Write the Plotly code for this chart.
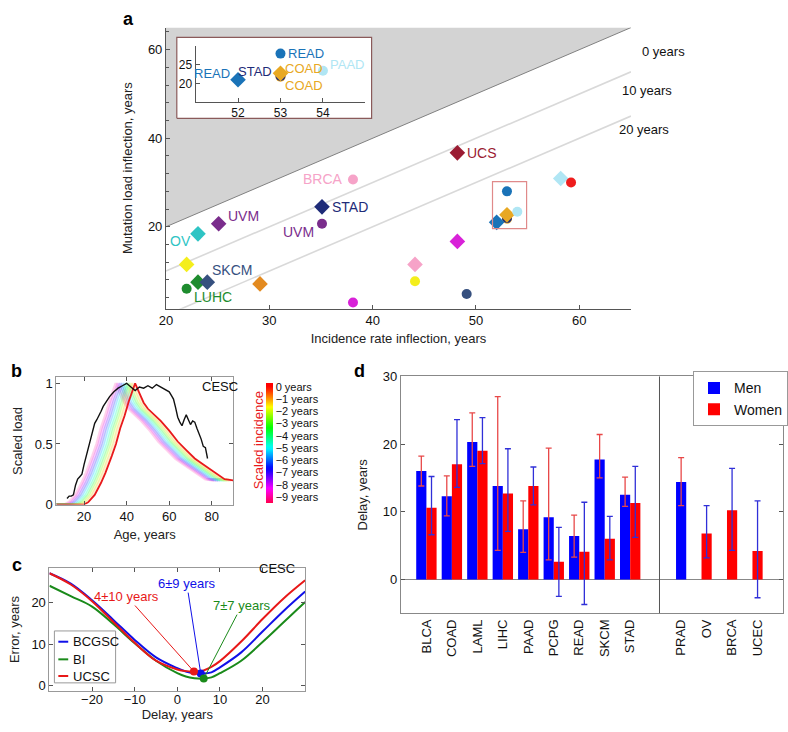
import colorsys
import plotly.graph_objects as go

W, H = 788, 732
FONT = "Liberation Sans, Arial, Helvetica, sans-serif"


def PX(x):
    return x / W


def PY(y):
    return 1 - y / H


# ---------------- Panel a data ----------------
a_cancer = ["BRCA", "STAD", "UVM", "UVM", "OV", "HNSC", "LUHC", "LUHC", "SKCM", "KIRC",
            "LUSC", "UCS", "PAAD", "THCA", "READ", "COAD", "STAD", "COAD", "PAAD", "READ",
            "LUSC", "BRCA", "HNSC", "SKCM"]
a_set = ["circle", "diamond", "circle", "diamond", "diamond", "diamond", "diamond", "circle",
         "diamond", "diamond", "circle", "diamond", "diamond", "circle", "circle", "circle",
         "circle", "diamond", "circle", "diamond", "diamond", "diamond", "circle", "circle"]
a_incidence = [38.1, 35.1, 35.1, 25.1, 23.1, 22.0, 23.1, 22.0, 24.0, 29.1,
               38.1, 48.2, 58.2, 59.2, 53.0, 53.0, 53.0, 53.0, 54.0, 52.0,
               48.2, 44.1, 44.1, 49.1]
a_load = [30.7, 24.5, 20.7, 20.7, 18.4, 11.5, 7.5, 6.0, 7.5, 7.1,
          2.9, 36.7, 30.9, 30.0, 28.0, 21.8, 22.0, 22.7, 23.4, 21.0,
          16.7, 11.5, 7.7, 4.8]
a_main_label = ["BRCA", "STAD", "UVM", "UVM", "OV", "", "", "LUHC", "SKCM", "",
                "", "UCS", "", "", "", "", "", "", "", "",
                "", "", "", ""]
a_inset_label = ["", "", "", "", "", "", "", "", "", "",
                 "", "", "", "", "READ", "COAD", "STAD", "COAD", "PAAD", "READ",
                 "", "", "", ""]
a_delay_lines = [0, 10, 20]
a_delay_text = ["0 years", "10 years", "20 years"]

# ---------------- Panel b data ----------------
b_load_age = [12, 13, 14, 15, 16, 17, 18, 19, 20, 21, 22, 23, 24, 25, 26, 27, 28, 29, 30, 32,
              34, 36, 38, 40, 42, 44, 46, 48, 50, 52, 54, 56, 58, 60, 61, 62, 63, 64, 65, 66,
              67, 68, 69, 70, 71, 72, 73, 74, 75, 76, 77, 78]
b_load = [0.05, 0.07, 0.07, 0.08, 0.16, 0.21, 0.23, 0.25, 0.33, 0.40, 0.47, 0.55, 0.62, 0.67, 0.70, 0.73, 0.77, 0.81, 0.84, 0.89,
          0.93, 0.96, 0.98, 1.0, 0.97, 0.94, 0.97, 0.96, 0.98, 0.96, 0.99, 0.97, 0.95, 0.93, 0.90, 0.87, 0.80, 0.72, 0.68, 0.65,
          0.70, 0.74, 0.70, 0.66, 0.69, 0.68, 0.63, 0.59, 0.54, 0.48, 0.47, 0.38]
b_inc_age = [7, 15, 20, 22, 25, 28, 30, 33, 35, 37, 39, 41, 43, 44, 46, 48, 50, 53, 56, 60,
             64, 68, 72, 76, 80, 84, 86, 90]
b_incidence = [0.0, 0.0, 0.0, 0.02, 0.08, 0.18, 0.26, 0.40, 0.50, 0.63, 0.73, 0.85, 0.96, 1.0, 0.92, 0.84, 0.79, 0.74, 0.69, 0.61,
               0.52, 0.45, 0.38, 0.33, 0.28, 0.23, 0.21, 0.20]
b_shifts = [0, -1, -2, -3, -4, -5, -6, -7, -8, -9]

# ---------------- Panel c data ----------------
c_delay = [-30, -25, -20, -15, -10, -5, 0, 2, 4, 6, 8, 10, 15, 20, 25, 30]
c_bcgsc = [27.0, 24.5, 20.5, 15.8, 11.0, 6.8, 4.2, 3.4, 3.0, 2.9, 3.2, 4.4, 8.0, 13.0, 18.0, 22.6]
c_bi = [24.0, 21.5, 19.0, 14.8, 10.2, 6.0, 3.0, 2.2, 1.8, 1.7, 2.0, 3.0, 6.0, 10.5, 15.3, 20.1]
c_ucsc = [27.0, 24.3, 20.3, 15.3, 10.3, 6.0, 3.9, 3.5, 3.4, 3.6, 4.5, 5.9, 10.6, 16.0, 21.0, 25.3]
c_centers = ["BCGSC", "BI", "UCSC"]
c_best_delay = [5.5, 6.2, 3.9]
c_best_error = [2.9, 1.7, 3.4]
c_best_text = ["6±9 years", "7±7 years", "4±10 years"]

# ---------------- Panel d data ----------------
d_cancer = ["BLCA", "COAD", "LAML", "LIHC", "PAAD", "PCPG", "READ", "SKCM", "STAD",
            "PRAD", "OV", "BRCA", "UCEC"]
d_men = [16.0, 12.3, 20.3, 13.8, 7.4, 9.2, 6.4, 17.7, 12.5, 14.4, None, None, None]
d_men_hi = [18.2, 15.3, 24.6, 27.0, 11.6, 19.4, 9.5, 21.4, 15.1, 18.0, None, None, None]
d_men_lo = [13.8, 9.4, 16.7, 4.3, 4.0, 2.9, 3.3, 15.0, 10.8, 10.9, None, None, None]
d_women = [10.6, 17.0, 19.0, 12.7, 13.8, 2.6, 4.1, 6.0, 11.3, None, 6.8, 10.2, 4.2]
d_women_hi = [15.2, 23.6, 23.9, 19.3, 16.6, 7.7, 11.4, 9.3, 16.7, None, 10.9, 16.4, 11.6]
d_women_lo = [6.6, 13.6, 17.1, 7.1, 11.0, -2.5, -3.7, 2.9, 6.2, None, 3.2, 4.3, -2.7]

# ---------------- styles ----------------
a_colors = {"BRCA": "#f6a3c8", "STAD": "#1e2b78", "UVM": "#7a2d8c", "OV": "#2ec4c4",
            "HNSC": "#f4ee1c", "LUHC": "#1e8c2e", "SKCM": "#36507f", "KIRC": "#e38a1f",
            "LUSC": "#d822d8", "UCS": "#9b1c33", "PAAD": "#b0e6f4", "THCA": "#ee1d1d",
            "READ": "#1a73b8", "COAD": "#e8a823"}
a_symbol = {"circle": "circle", "diamond": "diamond"}
a_size = {"circle": 10, "diamond": 12}
# label placement: (xanchor, xshift px, yshift px)
a_main_place = {("BRCA", "circle"): ("right", -8, 0), ("STAD", "diamond"): ("left", 8, 0),
                ("UVM", "diamond"): ("left", 7, 8), ("UVM", "circle"): ("right", -6, -8),
                ("OV", "diamond"): ("right", -5, -7), ("LUHC", "circle"): ("left", 5, -8),
                ("SKCM", "diamond"): ("left", 3, 12), ("UCS", "diamond"): ("left", 8, 0)}
a_inset_place = {("READ", "circle"): ("left", 6, 0), ("READ", "diamond"): ("right", -6, 6),
                 ("STAD", "circle"): ("right", -6, 4), ("COAD", "diamond"): ("left", 3, 5),
                 ("COAD", "circle"): ("left", 3, -9), ("PAAD", "circle"): ("left", 5, 6)}

fig = go.Figure()

# ===== Panel a =====
fig.add_trace(go.Scatter(x=[20, 65, 20, 20], y=[20, 65, 65, 20], mode="lines", fill="toself",
                         fillcolor="#d3d3d3", line=dict(width=0), hoverinfo="skip",
                         showlegend=False, xaxis="x", yaxis="y"))
for d in a_delay_lines:
    fig.add_trace(go.Scatter(x=[20, 65], y=[20 - d, 65 - d], mode="lines",
                             line=dict(color="#808080" if d == 0 else "#d9d9d9", width=1 if d == 0 else 1.6),
                             hoverinfo="skip", showlegend=False, xaxis="x", yaxis="y"))
fig.add_trace(go.Scatter(x=[21.05, 39.9, 39.9, 21.05, 21.05], y=[44.5, 44.5, 62.8, 62.8, 44.5],
                         mode="lines", fill="toself", fillcolor="white",
                         line=dict(color="#8a5a5a", width=1.2), hoverinfo="skip",
                         showlegend=False, xaxis="x", yaxis="y"))

fig.add_trace(go.Scatter(
    x=a_incidence, y=a_load, mode="markers",
    marker=dict(symbol=[a_symbol[s] for s in a_set], size=[a_size[s] for s in a_set],
                color=[a_colors[c] for c in a_cancer], line=dict(width=0), opacity=1),
    showlegend=False, xaxis="x", yaxis="y", cliponaxis=False))

ins = [i for i in range(len(a_cancer)) if 51 <= a_incidence[i] <= 55 and 15 <= a_load[i] <= 30]
fig.add_trace(go.Scatter(
    x=[a_incidence[i] for i in ins], y=[a_load[i] for i in ins], mode="markers",
    marker=dict(symbol=[a_symbol[a_set[i]] for i in ins], size=[a_size[a_set[i]] for i in ins],
                color=[a_colors[a_cancer[i]] for i in ins], line=dict(width=0), opacity=1),
    showlegend=False, xaxis="x2", yaxis="y2", cliponaxis=False))

ann = []
for i, t in enumerate(a_main_label):
    if t:
        xa, xs, ys = a_main_place[(a_cancer[i], a_set[i])]
        ann.append(dict(xref="x", yref="y", x=a_incidence[i], y=a_load[i], text=t, showarrow=False,
                        xanchor=xa, yanchor="middle", xshift=xs, yshift=ys,
                        font=dict(family=FONT, size=14, color=a_colors[a_cancer[i]])))
for i in ins:
    t = a_inset_label[i]
    if t:
        xa, xs, ys = a_inset_place[(a_cancer[i], a_set[i])]
        ann.append(dict(xref="x2", yref="y2", x=a_incidence[i], y=a_load[i], text=t, showarrow=False,
                        xanchor=xa, yanchor="middle", xshift=xs, yshift=ys,
                        font=dict(family=FONT, size=13, color=a_colors[a_cancer[i]])))

# ===== Panel b =====
def hue_col(k, alpha=1.0):
    r, g, b = colorsys.hsv_to_rgb((-k * 0.1) % 1.0, 1, 1)
    return f"rgba({int(r*255)},{int(g*255)},{int(b*255)},{alpha})"

for k in b_shifts[::-1]:
    if k == 0:
        continue
    fig.add_trace(go.Scatter(x=[a + k for a in b_inc_age], y=b_incidence, mode="lines",
                             line=dict(color=hue_col(k, 0.18), width=3), hoverinfo="skip",
                             showlegend=False, xaxis="x3", yaxis="y3"))
fig.add_trace(go.Scatter(x=b_inc_age, y=b_incidence, mode="lines", line=dict(color="#e8191c", width=1.8),
                         showlegend=False, xaxis="x3", yaxis="y3"))
fig.add_trace(go.Scatter(x=b_load_age, y=b_load, mode="lines", line=dict(color="#111111", width=1.4),
                         showlegend=False, xaxis="x3", yaxis="y3"))
cmin, cmax = -9.5, 0.3
nstop = 40
cscale = []
for j in range(nstop + 1):
    v = cmin + (cmax - cmin) * j / nstop
    h = min(max(-v * 0.1, 0), 0.96)
    r, g, b = colorsys.hsv_to_rgb(h, 1, 1)
    cscale.append([j / nstop, f"rgb({int(r*255)},{int(g*255)},{int(b*255)})"])
fig.add_trace(go.Scatter(
    x=[None], y=[None], mode="markers", xaxis="x3", yaxis="y3", showlegend=False, hoverinfo="skip",
    marker=dict(color=[0], cmin=cmin, cmax=cmax, colorscale=cscale, showscale=True,
                colorbar=dict(x=PX(262), xanchor="left", y=PY(384), yanchor="top",
                              len=122 / H, lenmode="fraction", thickness=7, thicknessmode="pixels",
                              outlinewidth=0, xpad=0, ypad=0, ticks="",
                              tickvals=b_shifts,
                              ticktext=[f"{s} years".replace("-", "\u2212") for s in b_shifts],
                              tickfont=dict(family=FONT, size=11, color="#111")))))

# ===== Panel c =====
c_series = [c_bcgsc, c_bi, c_ucsc]
c_cols = ["#1010e8", "#1a8a1a", "#e81818"]
for name, vals, col in zip(c_centers, c_series, c_cols):
    fig.add_trace(go.Scatter(x=c_delay, y=vals, mode="lines", name=name, line=dict(color=col, width=2),
                             line_shape="spline", xaxis="x4", yaxis="y4", showlegend=False))
for bx, by, col in zip(c_best_delay, c_best_error, c_cols):
    fig.add_trace(go.Scatter(x=[bx], y=[by], mode="markers", marker=dict(color=col, size=8),
                             showlegend=False, xaxis="x4", yaxis="y4"))

# ===== Panel d =====
pos_d = [i + 1 for i in range(9)] + [11, 12, 13, 14]
mx, my, mp, mm = [], [], [], []
wx, wy, wp, wm = [], [], [], []
for i, p in enumerate(pos_d):
    both = d_men[i] is not None and d_women[i] is not None
    if d_men[i] is not None:
        mx.append(p - 0.2 if both else p)
        my.append(d_men[i]); mp.append(d_men_hi[i] - d_men[i]); mm.append(d_men[i] - d_men_lo[i])
    if d_women[i] is not None:
        wx.append(p + 0.2 if both else p)
        wy.append(d_women[i]); wp.append(d_women_hi[i] - d_women[i]); wm.append(d_women[i] - d_women_lo[i])
fig.add_trace(go.Bar(x=mx, y=my, width=0.4, name="Men", marker=dict(color="#0000ff", line=dict(width=0)),
                     error_y=dict(type="data", array=mp, arrayminus=mm, color="#e84848", thickness=1.3, width=3),
                     xaxis="x5", yaxis="y5", legend="legend2"))
fig.add_trace(go.Bar(x=wx, y=wy, width=0.4, name="Women", marker=dict(color="#ff0000", line=dict(width=0)),
                     error_y=dict(type="data", array=wp, arrayminus=wm, color="#3030d8", thickness=1.3, width=3),
                     xaxis="x5", yaxis="y5", legend="legend2"))

# ---------------- layout ----------------
ax_common = dict(showgrid=False, zeroline=False, showline=True, linecolor="#555", linewidth=1,
                 ticks="inside", ticklen=4, tickcolor="#555", ticklabelstandoff=0,
                 tickfont=dict(family=FONT, size=13, color="#111"))
tfont = dict(family=FONT, size=13, color="#222")

layout = dict(
    width=W, height=H, autosize=False, margin=dict(l=0, r=0, t=0, b=0),
    paper_bgcolor="white", plot_bgcolor="rgba(0,0,0,0)",
    font=dict(family=FONT, size=13, color="#111"),
    xaxis=dict(ax_common, domain=[PX(161), PX(632)], range=[20, 65], tickvals=[20, 30, 40, 50, 60],
               anchor="y", title=dict(text="Incidence rate inflection, years", font=tfont, standoff=6)),
    yaxis=dict(ax_common, domain=[PY(308), PY(21)], range=[1.5, 65], tickvals=[20, 40, 60],
               ticktext=["20", "40", "60"],
               minor=dict(dtick=4, tick0=0, ticks="inside", ticklen=3, tickcolor="#555"),
               anchor="x", title=dict(text="Mutation load inflection, years", font=tfont, standoff=12)),
    xaxis2=dict(ax_common, domain=[PX(191), PX(363)], range=[51, 55], tickvals=[52, 53, 54],
                anchor="y2", tickfont=dict(family=FONT, size=12, color="#111")),
    yaxis2=dict(ax_common, domain=[PY(97), PY(40)], range=[15, 30], tickvals=[20, 25],
                anchor="x2", tickfont=dict(family=FONT, size=12, color="#111")),
    xaxis3=dict(ax_common, domain=[PX(50), PX(229)], range=[7, 90], tickvals=[20, 40, 60, 80],
                anchor="y3", mirror="ticks", linecolor="#999",
                title=dict(text="Age, years", font=tfont, standoff=6)),
    yaxis3=dict(ax_common, domain=[PY(508), PY(378)], range=[0, 1.05], tickvals=[0, 0.5, 1],
                ticktext=["0", "0.5", "1"], anchor="x3", mirror="ticks", linecolor="#999",
                title=dict(text="Scaled load", font=tfont, standoff=9)),
    xaxis4=dict(ax_common, domain=[PX(43), PX(302)], range=[-30, 30], tickvals=[-20, -10, 0, 10, 20],
                anchor="y4", mirror="ticks", linecolor="#999", ticklabelstandoff=-3,
                title=dict(text="Delay, years", font=tfont, standoff=3)),
    yaxis4=dict(ax_common, domain=[PY(698), PY(573)], range=[-1.2, 28.2], tickvals=[0, 10, 20],
                anchor="x4", mirror="ticks", linecolor="#999",
                title=dict(text="Error, years", font=tfont, standoff=8)),
    xaxis5=dict(ax_common, domain=[PX(399), PX(786)], range=[0, 15], tickvals=pos_d, ticktext=d_cancer,
                tickangle=-90, anchor="y5", mirror=True, linecolor="#888", ticks=""),
    yaxis5=dict(ax_common, domain=[PY(619), PY(377)], range=[-5, 30], tickvals=[0, 10, 20, 30],
                anchor="x5", mirror="ticks", linecolor="#888", zeroline=True, zerolinecolor="#888",
                zerolinewidth=1, title=dict(text="Delay, years", font=tfont, standoff=12)),
    legend2=dict(x=PX(695), y=PY(372), xanchor="left", yanchor="top", bgcolor="white",
                 bordercolor="#999", borderwidth=1, font=dict(family=FONT, size=14, color="#111"),
                 tracegroupgap=0),
    barmode="overlay",
    showlegend=True,
)
fig.update_layout(**layout)

shapes = []
shapes.append(dict(type="rect", xref="x", yref="y", x0=51.6, x1=54.9, y0=19.6, y1=30.2,
                   line=dict(color="#e08a8a", width=1.2), layer="above"))
shapes.append(dict(type="line", xref="x5", yref="y5", x0=10.15, x1=10.15, y0=-5, y1=30,
                   line=dict(color="#555", width=1)))
shapes.append(dict(type="rect", xref="paper", yref="paper", x0=PX(48), x1=PX(110), y0=PY(690), y1=PY(637),
                   line=dict(color="#999", width=1), fillcolor="white", layer="above"))
for name, col, yy in zip(c_centers, c_cols, [648, 666, 683]):
    shapes.append(dict(type="line", xref="paper", yref="paper", x0=PX(52), x1=PX(62), y0=PY(yy), y1=PY(yy),
                       line=dict(color=col, width=2), layer="above"))
    ann.append(dict(xref="paper", yref="paper", x=PX(65), y=PY(yy), text=name, showarrow=False,
                    xanchor="left", yanchor="middle", font=dict(family=FONT, size=13, color="#111")))
fig.update_layout(shapes=shapes)

for t, xx, yy in zip(a_delay_text, [641, 621, 618], [45, 85, 125]):
    ann.append(dict(xref="paper", yref="paper", x=PX(xx), y=PY(yy), text=t, showarrow=False,
                    xanchor="left", yanchor="middle", font=dict(family=FONT, size=13, color="#111")))
for t, x, y in [("a", 123, 12), ("b", 10, 372), ("c", 10, 570), ("d", 357, 372)]:
    ann.append(dict(xref="paper", yref="paper", x=PX(x), y=PY(y), text=f"<b>{t}</b>", showarrow=False,
                    xanchor="center", yanchor="middle", font=dict(family=FONT, size=18, color="#000")))
ann.append(dict(xref="paper", yref="paper", x=PX(195), y=PY(387), text="CESC", showarrow=False,
                font=dict(family=FONT, size=13, color="#111")))
ann.append(dict(xref="paper", yref="paper", x=PX(246), y=PY(442), text="Scaled incidence", showarrow=False,
                textangle=-90, font=dict(family=FONT, size=13, color="#e8191c")))
ann.append(dict(xref="paper", yref="paper", x=PX(273), y=PY(583), text="CESC", showarrow=False,
                font=dict(family=FONT, size=13, color="#111")))
c_offsets = [(-14, -90), (38, -73), (-67, -75)]
for bx, by, t, col, (oax, oay) in zip(c_best_delay, c_best_error, c_best_text, c_cols, c_offsets):
    ann.append(dict(xref="x4", yref="y4", x=bx, y=by, text=t, showarrow=True, arrowhead=0,
                    arrowwidth=1, arrowcolor=col, ax=oax, ay=oay,
                    font=dict(family=FONT, size=13, color=col)))
fig.update_layout(annotations=ann)

fig.write_html("out.html", config={"displayModeBar": False},
               post_script="document.body.style.margin='0px';document.body.style.overflow='hidden';")
